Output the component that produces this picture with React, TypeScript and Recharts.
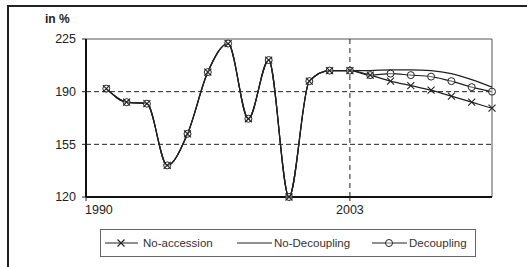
import { LineChart, Line, XAxis, YAxis, ReferenceLine } from 'recharts'

const years = [1991, 1992, 1993, 1994, 1995, 1996, 1997, 1998, 1999, 2000, 2001, 2002, 2003, 2004, 2005, 2006, 2007, 2008, 2009, 2010]
const history = [192, 183, 182, 141, 162, 203, 222, 172, 211, 120, 197, 204, 204]
const noAccession = [201, 197, 194, 191, 187, 183, 179]
const noDecoupling = [204, 204.5, 204.5, 204, 202, 198, 193]
const decoupling = [201, 202, 201, 200, 197, 193, 190]
const xTicks = [1990, 2003]
const yTicks = [120, 155, 190, 225]

const data = years.map((year, i) => ({
  year,
  noAccession: i < history.length ? history[i] : noAccession[i - history.length],
  noDecoupling: i < history.length ? history[i] : noDecoupling[i - history.length],
  decoupling: i < history.length ? history[i] : decoupling[i - history.length],
}))

const font = '"Liberation Sans", Arial, sans-serif'
const ink = '#222'

function Cross({ cx, cy }: { cx?: number; cy?: number }) {
  if (cx == null || cy == null) return null
  const s = 3.5
  return (
    <path
      d={`M${cx - s},${cy - s}L${cx + s},${cy + s}M${cx - s},${cy + s}L${cx + s},${cy - s}`}
      stroke={ink}
      strokeWidth={1.1}
      fill="none"
    />
  )
}

function Ring({ cx, cy }: { cx?: number; cy?: number }) {
  if (cx == null || cy == null) return null
  return <circle cx={cx} cy={cy} r={3.5} stroke={ink} strokeWidth={1} fill="#fff" fillOpacity={0.4} />
}

function XTick({ x, y, payload }: any) {
  const first = payload.value === 1990
  return (
    <text x={first ? x - 1 : x} y={y} dy={11} textAnchor={first ? 'start' : 'middle'} fontSize={12.5} fontFamily={font} fill={ink}>
      {payload.value}
    </text>
  )
}

function Legend() {
  return (
    <svg width={376} height={28} style={{ position: 'absolute', left: 100, top: 229 }}>
      <rect x={0.5} y={0.5} width={375} height={27} fill="#fff" stroke="#666" />
      <g fontFamily={font} fontSize={11.5} fill="#333">
        <line x1={5} x2={38} y1={14} y2={14} stroke={ink} strokeWidth={1.2} />
        <Cross cx={21} cy={14} />
        <text x={43} y={18}>No-accession</text>
        <line x1={137} x2={172} y1={14} y2={14} stroke={ink} strokeWidth={1.2} />
        <text x={174} y={18}>No-Decoupling</text>
        <line x1={272} x2={307} y1={14} y2={14} stroke={ink} strokeWidth={1.2} />
        <Ring cx={289} cy={14} />
        <text x={309} y={18}>Decoupling</text>
      </g>
    </svg>
  )
}

export default function App() {
  return (
    <div style={{ position: 'absolute', left: 0, top: 0, width: 527, height: 267, background: '#fff', overflow: 'hidden' }}>
      <div style={{ position: 'absolute', left: 7, top: 5, width: 540, height: 280, borderTop: '2px solid #222', borderLeft: '2px solid #222' }} />
      <div style={{ position: 'absolute', left: 45, top: 12, fontFamily: font, fontWeight: 'bold', fontSize: 12, color: ink }}>in %</div>
      <LineChart
        width={527}
        height={267}
        data={data}
        margin={{ top: 39, right: 35, bottom: 0, left: 46 }}
        style={{ position: 'absolute', left: 0, top: 0 }}
      >
        <XAxis
          dataKey="year"
          type="number"
          domain={[1990, 2010]}
          ticks={xTicks}
          tick={<XTick />}
          height={70}
          tickSize={4}
          axisLine={{ stroke: '#111', strokeWidth: 2 }}
          tickLine={{ stroke: ink }}
        />
        <YAxis
          domain={[120, 225]}
          ticks={yTicks}
          width={40}
          tickSize={4}
          tickMargin={6}
          axisLine={{ stroke: '#111', strokeWidth: 2 }}
          tickLine={{ stroke: ink }}
          tick={{ fontSize: 12.5, fontFamily: font, fill: ink }}
        />
        <ReferenceLine y={155} stroke={ink} strokeDasharray="5 3" />
        <ReferenceLine y={190} stroke={ink} strokeDasharray="5 3" />
        <ReferenceLine y={225} stroke="#555" />
        <ReferenceLine x={2010} stroke="#555" />
        <ReferenceLine x={2003} stroke={ink} strokeDasharray="5 4" />
        <Line type="monotone" dataKey="noDecoupling" stroke={ink} strokeWidth={1.2} dot={false} isAnimationActive={false} />
        <Line type="monotone" dataKey="decoupling" stroke={ink} strokeWidth={1.2} dot={(p: any) => <Ring key={p.index} cx={p.cx} cy={p.cy} />} isAnimationActive={false} />
        <Line type="monotone" dataKey="noAccession" stroke={ink} strokeWidth={1.2} dot={(p: any) => <Cross key={p.index} cx={p.cx} cy={p.cy} />} isAnimationActive={false} />
      </LineChart>
      <Legend />
    </div>
  )
}
